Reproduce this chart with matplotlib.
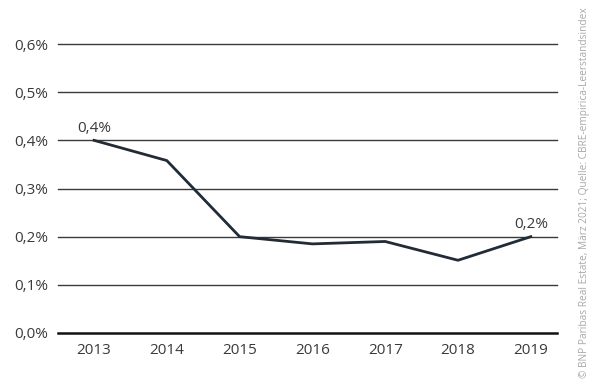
import matplotlib
matplotlib.use("Agg")
import matplotlib.pyplot as plt

years = [2013, 2014, 2015, 2016, 2017, 2018, 2019]
rates = [0.40, 0.358, 0.20, 0.185, 0.19, 0.151, 0.20]
y_ticks = [0.0, 0.1, 0.2, 0.3, 0.4, 0.5, 0.6]
y_labels = ["0,0%", "0,1%", "0,2%", "0,3%", "0,4%", "0,5%", "0,6%"]
source = "© BNP Paribas Real Estate, März 2021; Quelle: CBRE-empirica-Leerstandsindex"

plt.rcParams["font.family"] = ["Open Sans", "DejaVu Sans"]

fig = plt.figure(figsize=(6, 3.84), dpi=100)
ax = fig.add_axes([58 / 600, 51 / 384, 499 / 600, 289 / 384])

for y in y_ticks[1:]:
    ax.axhline(y, color="#3a3a3a", lw=1.0, zorder=1, clip_on=False)
ax.axhline(0, color="#111111", lw=1.8, zorder=1, clip_on=False)

ax.plot(years, rates, color="#222c36", lw=2.0, zorder=3, clip_on=False)

ax.text(years[0], rates[0] + 0.01, "0,4%", ha="center", va="bottom", fontsize=11, color="#3a3a3a")
ax.text(years[-1], rates[-1] + 0.01, "0,2%", ha="center", va="bottom", fontsize=11, color="#3a3a3a")

ax.set_xlim(2012.505, 2019.36)
ax.set_ylim(0, 0.6)
ax.set_xticks(years)
ax.set_xticklabels([str(y) for y in years], fontsize=11, color="#3a3a3a")
ax.set_yticks(y_ticks)
ax.set_yticklabels(y_labels, fontsize=11, color="#3a3a3a")
ax.tick_params(length=0, pad=7)
for side in ax.spines.values():
    side.set_visible(False)

fig.text(584 / 600, 6 / 384, source, rotation=90, ha="center", va="bottom",
         fontsize=7.3, color="#a8a8a8")

fig.savefig("out.png", dpi=100, facecolor="white")
